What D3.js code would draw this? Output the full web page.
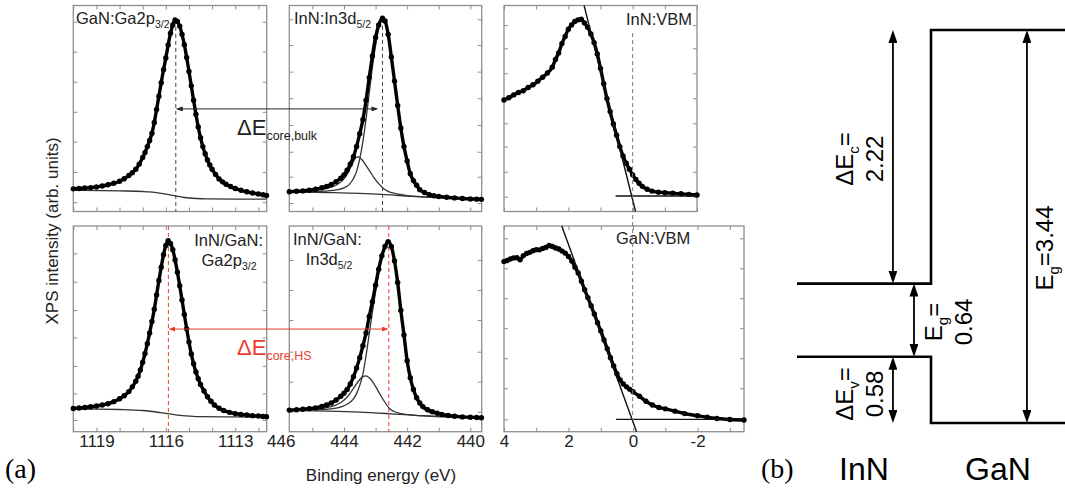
<!DOCTYPE html>
<html><head><meta charset="utf-8">
<script src="https://cdn.jsdelivr.net/npm/d3@7"></script>
<style>
body{margin:0;background:#fff;}
svg{display:block;font-family:"Liberation Sans",Arial,sans-serif;}
</style></head><body>
<script>
// ---- (a) XPS spectra, [binding energy (eV), intensity (arb., 0..1 of panel)] ----
const gaBulk = [[1120.0,0.110],[1119.75,0.112],[1119.5,0.114],[1119.25,0.116],[1119.0,0.119],[1118.75,0.124],[1118.5,0.130],[1118.25,0.137],[1118.0,0.147],[1117.8,0.159],[1117.6,0.175],[1117.45,0.188],[1117.3,0.205],[1117.15,0.230],[1117.0,0.262],[1116.9,0.286],[1116.8,0.315],[1116.7,0.345],[1116.6,0.380],[1116.5,0.432],[1116.4,0.495],[1116.3,0.560],[1116.2,0.625],[1116.1,0.688],[1116.0,0.745],[1115.9,0.808],[1115.8,0.865],[1115.7,0.905],[1115.6,0.930],[1115.5,0.922],[1115.4,0.900],[1115.3,0.860],[1115.2,0.810],[1115.1,0.748],[1115.0,0.680],[1114.9,0.610],[1114.8,0.540],[1114.7,0.472],[1114.6,0.410],[1114.5,0.358],[1114.4,0.315],[1114.3,0.280],[1114.2,0.250],[1114.1,0.226],[1114.0,0.205],[1113.85,0.180],[1113.7,0.158],[1113.55,0.144],[1113.4,0.132],[1113.2,0.121],[1113.0,0.112],[1112.75,0.103],[1112.5,0.096],[1112.25,0.090],[1112.0,0.085],[1111.8,0.081],[1111.65,0.078]];
const gaBulkBg = [[1120.0,0.103],[1118.0,0.100],[1117.0,0.097],[1116.7,0.095],[1116.2,0.088],[1115.7,0.078],[1115.2,0.068],[1114.7,0.063],[1114.25,0.061],[1113.0,0.060],[1111.65,0.060]];

const inBulk = [[445.73,0.096],[445.5,0.098],[445.3,0.100],[445.1,0.103],[444.9,0.108],[444.7,0.115],[444.55,0.122],[444.4,0.131],[444.25,0.145],[444.1,0.162],[444.0,0.178],[443.9,0.200],[443.8,0.230],[443.7,0.266],[443.6,0.316],[443.5,0.378],[443.4,0.446],[443.3,0.540],[443.2,0.650],[443.1,0.755],[443.0,0.845],[442.9,0.905],[442.78,0.938],[442.7,0.925],[442.6,0.860],[442.5,0.750],[442.4,0.633],[442.3,0.515],[442.2,0.405],[442.1,0.315],[442.0,0.245],[441.9,0.183],[441.8,0.150],[441.7,0.128],[441.6,0.106],[441.45,0.092],[441.3,0.082],[441.15,0.077],[441.0,0.073],[440.75,0.069],[440.5,0.066],[440.25,0.063],[440.0,0.061],[439.8,0.060],[439.65,0.059]];
const inBulkMain = [[445.73,0.095],[445.0,0.097],[444.5,0.100],[444.2,0.106],[444.0,0.115],[443.85,0.128],[443.7,0.160],[443.6,0.195],[443.5,0.255],[443.4,0.340],[443.3,0.450],[443.2,0.575],[443.1,0.700],[443.0,0.805],[442.9,0.888],[442.78,0.932],[442.7,0.922],[442.6,0.858],[442.5,0.748],[442.4,0.631],[442.3,0.512],[442.2,0.400],[442.1,0.308],[442.0,0.236],[441.9,0.175],[441.8,0.140],[441.7,0.118],[441.5,0.092],[441.2,0.076],[440.8,0.069],[440.2,0.063],[439.65,0.060]];
const inBulkSmall = [[445.73,0.097],[445.0,0.102],[444.6,0.110],[444.4,0.118],[444.2,0.132],[444.05,0.150],[443.9,0.180],[443.8,0.210],[443.7,0.242],[443.62,0.262],[443.55,0.265],[443.45,0.255],[443.35,0.235],[443.2,0.200],[443.05,0.165],[442.9,0.135],[442.75,0.112],[442.6,0.098],[442.4,0.088],[442.1,0.080],[441.7,0.073],[441.0,0.067],[439.65,0.062]];
const inBulkBg = [[445.73,0.095],[444.5,0.092],[443.5,0.088],[442.8,0.083],[442.0,0.075],[441.0,0.067],[440.0,0.062],[439.65,0.061]];

const vbmInN = [[4.00,0.541],[3.85,0.552],[3.70,0.566],[3.55,0.578],[3.40,0.586],[3.25,0.602],[3.10,0.615],[2.95,0.632],[2.80,0.652],[2.65,0.672],[2.50,0.700],[2.40,0.738],[2.30,0.770],[2.20,0.815],[2.10,0.850],[2.00,0.885],[1.90,0.905],[1.80,0.922],[1.70,0.930],[1.60,0.933],[1.50,0.915],[1.40,0.895],[1.30,0.862],[1.20,0.820],[1.10,0.765],[1.00,0.695],[0.90,0.620],[0.80,0.548],[0.70,0.485],[0.60,0.425],[0.50,0.370],[0.40,0.315],[0.30,0.270],[0.20,0.234],[0.10,0.205],[0.00,0.178],[-0.10,0.155],[-0.20,0.137],[-0.30,0.122],[-0.45,0.108],[-0.60,0.099],[-0.80,0.094],[-1.00,0.091],[-1.25,0.089],[-1.50,0.086],[-1.75,0.083],[-2.00,0.080]];
const vbmInNFit = [[1.51,1.0],[-0.09,0.0]];
const vbmInNBase = [[0.53,0.075],[-2.0,0.075]];

const gaHS = [[1120.0,0.113],[1119.75,0.115],[1119.5,0.118],[1119.25,0.121],[1119.0,0.125],[1118.75,0.130],[1118.5,0.136],[1118.25,0.146],[1118.0,0.160],[1117.8,0.175],[1117.6,0.195],[1117.45,0.218],[1117.3,0.245],[1117.2,0.270],[1117.1,0.300],[1117.0,0.338],[1116.9,0.380],[1116.8,0.428],[1116.7,0.480],[1116.6,0.536],[1116.5,0.595],[1116.4,0.665],[1116.3,0.735],[1116.2,0.800],[1116.1,0.860],[1116.0,0.905],[1115.9,0.928],[1115.8,0.915],[1115.7,0.885],[1115.6,0.835],[1115.5,0.775],[1115.4,0.710],[1115.3,0.640],[1115.2,0.570],[1115.1,0.500],[1115.0,0.436],[1114.9,0.378],[1114.8,0.330],[1114.7,0.290],[1114.6,0.258],[1114.5,0.230],[1114.35,0.198],[1114.2,0.170],[1114.05,0.148],[1113.9,0.130],[1113.7,0.114],[1113.5,0.103],[1113.25,0.094],[1113.0,0.088],[1112.75,0.084],[1112.5,0.081],[1112.25,0.078],[1112.0,0.076],[1111.8,0.074],[1111.65,0.073]];
const gaHSBg = [[1120.0,0.110],[1119.0,0.110],[1118.0,0.108],[1117.0,0.103],[1116.5,0.097],[1116.0,0.089],[1115.5,0.081],[1115.0,0.076],[1114.5,0.073],[1113.0,0.072],[1111.65,0.071]];

const inHS = [[445.73,0.105],[445.5,0.107],[445.3,0.109],[445.1,0.112],[444.9,0.116],[444.7,0.123],[444.55,0.130],[444.4,0.140],[444.25,0.154],[444.1,0.172],[444.0,0.187],[443.9,0.205],[443.8,0.232],[443.7,0.267],[443.6,0.310],[443.5,0.360],[443.4,0.418],[443.3,0.480],[443.2,0.560],[443.1,0.632],[443.0,0.712],[442.9,0.790],[442.8,0.855],[442.7,0.900],[442.6,0.924],[442.5,0.900],[442.4,0.830],[442.3,0.725],[442.2,0.590],[442.1,0.470],[442.0,0.345],[441.9,0.262],[441.8,0.205],[441.7,0.165],[441.6,0.140],[441.5,0.122],[441.35,0.107],[441.2,0.097],[441.05,0.090],[440.9,0.084],[440.7,0.079],[440.5,0.075],[440.25,0.072],[440.0,0.070],[439.8,0.069],[439.65,0.068]];
const inHSMain = [[445.73,0.103],[445.0,0.106],[444.5,0.110],[444.2,0.116],[444.0,0.126],[443.85,0.138],[443.7,0.160],[443.6,0.185],[443.5,0.225],[443.4,0.280],[443.3,0.370],[443.2,0.475],[443.1,0.580],[443.0,0.680],[442.9,0.770],[442.8,0.845],[442.7,0.893],[442.6,0.918],[442.5,0.896],[442.4,0.826],[442.3,0.720],[442.2,0.585],[442.1,0.463],[442.0,0.338],[441.9,0.255],[441.8,0.197],[441.7,0.157],[441.5,0.113],[441.2,0.090],[440.8,0.079],[440.2,0.072],[439.65,0.069]];
const inHSSmall = [[445.73,0.104],[445.0,0.109],[444.6,0.116],[444.3,0.127],[444.1,0.142],[443.95,0.160],[443.8,0.188],[443.65,0.222],[443.5,0.254],[443.4,0.268],[443.3,0.271],[443.2,0.262],[443.1,0.245],[443.0,0.220],[442.85,0.180],[442.7,0.142],[442.55,0.112],[442.4,0.097],[442.2,0.088],[441.9,0.082],[441.5,0.077],[440.8,0.072],[439.65,0.068]];
const inHSBg = [[445.73,0.104],[444.5,0.100],[443.5,0.095],[442.5,0.087],[441.5,0.078],[440.5,0.072],[439.65,0.069]];

const vbmGaN = [[4.00,0.827],[3.90,0.832],[3.80,0.840],[3.70,0.845],[3.60,0.846],[3.50,0.836],[3.40,0.856],[3.30,0.866],[3.20,0.872],[3.10,0.880],[3.00,0.885],[2.90,0.884],[2.80,0.891],[2.70,0.896],[2.60,0.905],[2.50,0.900],[2.40,0.893],[2.30,0.888],[2.20,0.878],[2.10,0.868],[2.00,0.852],[1.90,0.830],[1.80,0.800],[1.70,0.772],[1.60,0.732],[1.50,0.690],[1.40,0.652],[1.30,0.612],[1.20,0.572],[1.10,0.530],[1.00,0.490],[0.90,0.446],[0.80,0.404],[0.70,0.360],[0.60,0.320],[0.50,0.282],[0.40,0.252],[0.30,0.232],[0.20,0.218],[0.10,0.206],[0.00,0.194],[-0.20,0.172],[-0.40,0.148],[-0.60,0.130],[-0.80,0.118],[-1.00,0.111],[-1.30,0.100],[-1.60,0.088],[-2.00,0.078],[-2.30,0.070],[-2.60,0.064],[-3.00,0.059],[-3.44,0.057]];
const vbmGaNFit = [[2.21,1.0],[-0.11,0.0]];
const vbmGaNBase = [[0.53,0.060],[-3.44,0.060]];

// peak positions (eV) and axis extents
const peaks = { gaBulk: 1115.57, inBulk: 442.78, gaHS: 1115.89, inHS: 442.58 };
const gaDomain = [1120.0, 1111.64];
const inDomain = [445.73, 439.64];
const vbmTopDomain = [4, -2];
const vbmBotDomain = [4, -3.44];
const gaTickLabels = [1119, 1116, 1113];
const inTickLabels = [446, 444, 442, 440];
const vbmTickLabels = [4, 2, 0, -2];
const ytTL = [0.921, 0.776, 0.630, 0.484, 0.339, 0.192, 0.045];
const ytTM = [0.933, 0.808, 0.679, 0.550, 0.420, 0.290, 0.169, 0.041];
const ytTR = [0.905, 0.792, 0.671, 0.550, 0.428, 0.315, 0.193, 0.072];
const ytBL = [0.867, 0.729, 0.591, 0.458, 0.320, 0.186, 0.057];
const ytBM = [0.835, 0.689, 0.543, 0.389, 0.243, 0.097];
const ytBR = [0.940, 0.794, 0.649, 0.503, 0.357, 0.211, 0.060];

// ---- (b) band alignment (eV, GaN VBM = 0) ----
const innBands = [0.58, 1.22];   // VBM, CBM
const ganBands = [0, 3.44];      // VBM, CBM

(function() {
    const svg = d3.select('body').append('svg').attr('width', 1065).attr('height', 490);
    const frame = '#8e8e8e', red = '#ee3b30', ink = '#222';
    const defs = svg.append('defs');

    function marker(id, color, len, wid) {
        defs.append('marker').attr('id', id).attr('viewBox', `0 0 ${len} ${wid}`)
            .attr('refX', len / 2).attr('refY', wid / 2)
            .attr('markerWidth', len).attr('markerHeight', wid)
            .attr('markerUnits', 'userSpaceOnUse').attr('orient', 'auto-start-reverse')
            .append('path').attr('d', `M0,0L${len},${wid / 2}L0,${wid}z`).attr('fill', color);
    }
    marker('headK', ink, 7, 5); marker('headR', red, 7, 5); marker('headB', '#000', 13, 9);

    function panel(x0, x1, y0, y1, dom, yt) {
        const x = d3.scaleLinear().domain(dom).range([x0, x1]);
        const y = d3.scaleLinear().domain([0, 1]).range([y1, y0]);
        const g = svg.append('g');
        const xt = d3.range(Math.ceil(Math.min(...dom)), Math.floor(Math.max(...dom)) + 1);
        const tk = sel => { sel.select('.domain').remove(); sel.selectAll('line').attr('stroke', frame).attr('stroke-width', 1); };
        g.append('g').attr('transform', `translate(0,${y1})`).call(d3.axisTop(x).tickValues(xt).tickSize(4).tickFormat('')).call(tk);
        g.append('g').attr('transform', `translate(0,${y0})`).call(d3.axisBottom(x).tickValues(xt).tickSize(4).tickFormat('')).call(tk);
        g.append('g').attr('transform', `translate(${x0},0)`).call(d3.axisRight(y).tickValues(yt).tickSize(4).tickFormat('')).call(tk);
        g.append('g').attr('transform', `translate(${x1},0)`).call(d3.axisLeft(y).tickValues(yt).tickSize(4).tickFormat('')).call(tk);
        g.append('rect').attr('x', x0).attr('y', y0).attr('width', x1 - x0).attr('height', y1 - y0)
            .attr('fill', 'none').attr('stroke', frame).attr('stroke-width', 1.3);
        return { x, y, g };
    }

    function curve(p, pts, w, color) {
        p.g.append('path')
            .attr('d', d3.line().x(d => p.x(d[0])).y(d => p.y(d[1])).curve(d3.curveMonotoneX)(pts))
            .attr('fill', 'none').attr('stroke', color || '#333').attr('stroke-width', w || 1.3);
    }
    function straight(p, pts, w) {
        p.g.append('path').attr('d', d3.line().x(d => p.x(d[0])).y(d => p.y(d[1]))(pts))
            .attr('fill', 'none').attr('stroke', '#111').attr('stroke-width', w || 1.4);
    }
    function dots(p, pts) {
        curve(p, pts, 3.4, '#000');
        p.g.append('g').selectAll('circle').data(pts).enter().append('circle')
            .attr('cx', d => p.x(d[0])).attr('cy', d => p.y(d[1])).attr('r', 2.7).attr('fill', '#000');
    }
    function vdash(p, e, top, color) {
        p.g.append('line').attr('x1', p.x(e)).attr('x2', p.x(e)).attr('y1', p.y(top)).attr('y2', p.y(0))
            .attr('stroke', color).attr('stroke-width', 1).attr('stroke-dasharray', '4,3');
    }
    function tickLabels(p, vals) {
        const a = p.g.append('g').attr('transform', `translate(0,${p.y(0)})`)
            .call(d3.axisBottom(p.x).tickValues(vals).tickSize(0).tickFormat(d => String(d)));
        a.select('.domain').remove();
        a.attr('font-family', null).attr('font-size', null);
        a.selectAll('text').attr('y', 15).attr('dy', 0).attr('fill', ink).style('font-size', '17px');
    }
    function label(p, x, y, main, sub, anchor) {
        const t = p.g.append('text').attr('x', x).attr('y', y).attr('text-anchor', anchor || 'start')
            .attr('fill', '#222').style('font-size', '16.5px').text(main);
        if (sub) t.append('tspan').attr('dy', 4).style('font-size', '10.5px').text(sub);
    }

    const tl = panel(73.3, 266.7, 5.5, 211.5, gaDomain, ytTL);
    const tm = panel(289.3, 481.7, 5.5, 211.5, inDomain, ytTM);
    const tr = panel(504, 697, 5.5, 211.5, vbmTopDomain, ytTR);
    const bl = panel(73.3, 266.7, 226, 431.7, gaDomain, ytBL);
    const bm = panel(289.3, 481.7, 226, 431.7, inDomain, ytBM);
    const br = panel(504, 744, 226, 431.7, vbmBotDomain, ytBR);

    // top row
    vdash(tl, peaks.gaBulk, 0.93, '#444');
    curve(tl, gaBulkBg); dots(tl, gaBulk);
    vdash(tm, peaks.inBulk, 0.935, '#444');
    curve(tm, inBulkBg); curve(tm, inBulkSmall); curve(tm, inBulkMain); dots(tm, inBulk);
    dots(tr, vbmInN); straight(tr, vbmInNFit); straight(tr, vbmInNBase);

    // bottom row
    vdash(bl, peaks.gaHS, 1, red);
    curve(bl, gaHSBg); dots(bl, gaHS);
    vdash(bm, peaks.inHS, 1, red);
    curve(bm, inHSBg); curve(bm, inHSSmall); curve(bm, inHSMain); dots(bm, inHS);
    dots(br, vbmGaN); straight(br, vbmGaNFit); straight(br, vbmGaNBase);

    // VBM reference (0 eV) running through both VBM panels
    svg.append('line').attr('x1', tr.x(0)).attr('x2', tr.x(0)).attr('y1', tr.y(0.866)).attr('y2', br.y(0.057))
        .attr('stroke', '#777').attr('stroke-width', 1).attr('stroke-dasharray', '4,3');

    // core-level separation arrows
    function hArrow(y, xa, xb, color, head) {
        svg.append('line').attr('x1', xa + 3.5).attr('x2', xb - 3.5).attr('y1', y).attr('y2', y)
            .attr('stroke', color).attr('stroke-width', 1)
            .attr('marker-start', `url(#${head})`).attr('marker-end', `url(#${head})`);
    }
    hArrow(tl.y(0.498), tl.x(peaks.gaBulk), tm.x(peaks.inBulk) - 4, ink, 'headK');
    hArrow(bl.y(0.499), bl.x(peaks.gaHS), bm.x(peaks.inHS), red, 'headR');

    function deltaLabel(x, y, sub, color) {
        const t = svg.append('text').attr('x', x).attr('y', y).attr('fill', color).style('font-size', '22px').text('ΔE');
        t.append('tspan').attr('dy', 5).style('font-size', '12.5px').text(sub);
    }
    deltaLabel(237, 135, 'core,bulk', ink);
    deltaLabel(237, 355, 'core,HS', red);

    label(tl, 76, 24, 'GaN:Ga2p', '3/2');
    label(tm, 294, 24, 'InN:In3d', '5/2');
    label(tr, 692, 25, 'InN:VBM', null, 'end');
    label(bl, 263, 246, 'InN/GaN:', null, 'end');
    label(bl, 229, 266, 'Ga2p', '3/2', 'middle');
    label(bm, 293, 245, 'InN/GaN:');
    label(bm, 329, 265, 'In3d', '5/2', 'middle');
    label(br, 616, 244, 'GaN:VBM');

    tickLabels(bl, gaTickLabels);
    tickLabels(bm, inTickLabels);
    tickLabels(br, vbmTickLabels);

    svg.append('text').attr('transform', 'translate(58,231) rotate(-90)').attr('text-anchor', 'middle')
        .attr('fill', ink).style('font-size', '17px').text('XPS intensity (arb. units)');
    svg.append('text').attr('x', 381).attr('y', 481).attr('text-anchor', 'middle')
        .attr('fill', ink).style('font-size', '17px').text('Binding energy (eV)');

    const serif = '"Liberation Serif","DejaVu Serif",serif';
    svg.append('text').attr('x', 5).attr('y', 478).style('font-family', serif).style('font-size', '28px').text('(a)');
    svg.append('text').attr('x', 761).attr('y', 478).style('font-family', serif).style('font-size', '28px').text('(b)');

    // ---- (b) band diagram ----
    const by = d3.scaleLinear().domain([ganBands[0], ganBands[1]]).range([423, 30]);
    const bx = d3.scaleLinear().domain([-1, 1]).range([797, 1065]);
    const band = d3.line().x(d => bx(d[0])).y(d => by(d[1])).curve(d3.curveLinear);
    const cb = [[-1, innBands[1]], [0, innBands[1]], [0, ganBands[1]], [1, ganBands[1]]];
    const vb = [[-1, innBands[0]], [0, innBands[0]], [0, ganBands[0]], [1, ganBands[0]]];
    [cb, vb].forEach(pts => svg.append('path').attr('d', band(pts)).attr('fill', 'none')
        .attr('stroke', '#000').attr('stroke-width', 2.6).attr('stroke-linejoin', 'miter'));

    const spans = [[innBands[1], ganBands[1]], [innBands[0], innBands[1]], [ganBands[0], innBands[0]], [ganBands[0], ganBands[1]]];
    const spanX = [-0.284, -0.127, -0.284, 0.716];
    spans.forEach((s, i) => {
        svg.append('line').attr('x1', bx(spanX[i])).attr('x2', bx(spanX[i]))
            .attr('y1', by(s[0]) - 6.5).attr('y2', by(s[1]) + 6.5)
            .attr('stroke', '#000').attr('stroke-width', 1.8)
            .attr('marker-start', 'url(#headB)').attr('marker-end', 'url(#headB)');
    });

    const fmt = v => v.toFixed(2);
    function rotLabel(x, y, main, sub, tail, second) {
        const g = svg.append('g').attr('transform', `translate(${x},${y}) rotate(-90)`);
        const t = g.append('text').attr('text-anchor', 'middle').style('font-size', '24px').text(main);
        t.append('tspan').attr('dy', 6).style('font-size', '15px').text(sub);
        t.append('tspan').attr('dy', -6).text(tail);
        if (second) g.append('text').attr('y', 30).attr('text-anchor', 'middle').style('font-size', '24px').text(second);
    }
    rotLabel(853, 159, 'ΔE', 'c', '=', fmt(spans[0][1] - spans[0][0]));
    rotLabel(942, 322, 'E', 'g', '=', fmt(spans[1][1] - spans[1][0]));
    rotLabel(853, 394, 'ΔE', 'v', '=', fmt(spans[2][1] - spans[2][0]));
    rotLabel(1053, 248, 'E', 'g', '=' + fmt(spans[3][1] - spans[3][0]), null);

    svg.append('text').attr('x', bx(-0.5)).attr('y', 480).attr('text-anchor', 'middle').style('font-size', '32px').text('InN');
    svg.append('text').attr('x', bx(0.5)).attr('y', 480).attr('text-anchor', 'middle').style('font-size', '32px').text('GaN');
})();
</script>
</body></html>
